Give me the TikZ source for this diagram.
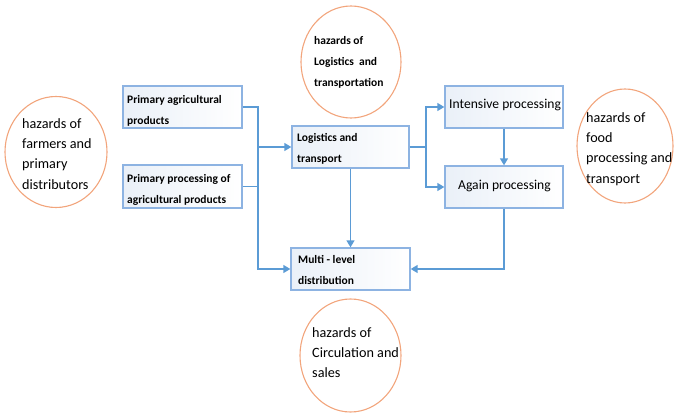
\documentclass[tikz,border=0pt]{standalone}
\usepackage{fontspec}
\setmainfont{Carlito}
\usetikzlibrary{arrows.meta,shapes.geometric}
\definecolor{lineblue}{HTML}{5B9BD5}
\definecolor{boxblue}{HTML}{8DB3E2}
\definecolor{circorange}{HTML}{F2A57C}
\definecolor{boxshade}{HTML}{EAF0F8}
\tikzset{
  box/.style={rectangle, draw=boxblue, line width=1.4pt, left color=boxshade, right color=white, inner sep=0pt},
  hazard/.style={ellipse, draw=circorange, line width=1.1pt, inner sep=0pt},
  boxtext/.style={anchor=north west, inner sep=0pt, align=left, font=\bfseries\fontsize{11.5}{21}\selectfont},
  plaintext/.style={anchor=north west, inner sep=0pt, align=left, font=\fontsize{13.6}{20}\selectfont},
  circtext/.style={anchor=north west, inner sep=0pt, align=left, font=\fontsize{14.2}{20.3}\selectfont},
  link/.style={draw=lineblue, line width=1.5pt},
  arr/.style={link, -{Triangle[length=7pt,width=8pt]}}
}
\begin{document}
\begin{tikzpicture}[x=1pt,y=-1pt]
\useasboundingbox (0,0) rectangle (675,417);
% circles
\node[hazard, minimum width=102pt, minimum height=111pt] (cL) at (56,152) {};
\node[hazard, minimum width=100pt, minimum height=112pt] (cT) at (351,62) {};
\node[hazard, minimum width=96pt, minimum height=114pt] (cR) at (625,146) {};
\node[hazard, minimum width=101pt, minimum height=113pt] (cB) at (350.5,355.5) {};
% boxes
\node[box, minimum width=119pt, minimum height=42pt] (b1) at (182.5,107) {};
\node[box, minimum width=119pt, minimum height=43pt] (b2) at (182.5,186.5) {};
\node[box, minimum width=117pt, minimum height=42pt] (lg) at (350.5,147) {};
\node[box, minimum width=118pt, minimum height=42pt] (ip) at (504,107) {};
\node[box, minimum width=118pt, minimum height=42pt] (ap) at (504,187) {};
\node[box, minimum width=119pt, minimum height=42pt] (ml) at (350.5,269) {};
% box texts
\node[boxtext] (tb1) at (127,94) {\rule{0pt}{9pt}Primary agricultural\\products};
\node[boxtext] (tb2) at (127,173) {\rule{0pt}{9pt}Primary processing of\\agricultural products};
\node[boxtext] (tlg) at (297,132) {\rule{0pt}{9pt}Logistics and\\transport};
\node[boxtext] (tml) at (298,254) {\rule{0pt}{9pt}Multi - level\\distribution};
\node[plaintext] (tip) at (449,98) {\rule{0pt}{10pt}Intensive processing};
\node[plaintext] (tap) at (458,179) {\rule{0pt}{10pt}Again processing};
% circle texts
\node[circtext] (tcL) at (22,118) {\rule{0pt}{10pt}hazards of\\farmers and\\primary\\distributors};
\node[boxtext] (tcT) at (314,35) {\rule{0pt}{9pt}hazards of\\Logistics\ \ and\\transportation};
\node[circtext] (tcR) at (586,112) {\rule{0pt}{10pt}hazards of\\food\\processing and\\transport};
\node[circtext] (tcB) at (312,327) {\rule{0pt}{10pt}hazards of\\Circulation and\\sales};
% connectors
\coordinate (j1) at (258,147);
\coordinate (j2) at (426,147);
\draw[link] (b1.east) -| (j1);
\draw[link] (b2.east) -| (j1);
\draw[arr] (j1) -- (lg.west);
\draw[arr] (b1.east -| j1) |- (ml.west);
\draw[link] (lg.east) -- (j2);
\draw[arr] (j2) |- (ip.west);
\draw[arr] (j2) |- (ap.west);
\draw[arr] (ip.south) -- (ap.north);
\draw[arr] (lg.south) -- (ml.north);
\draw[arr] (ap.south) |- (ml.east);
\end{tikzpicture}
\end{document}
